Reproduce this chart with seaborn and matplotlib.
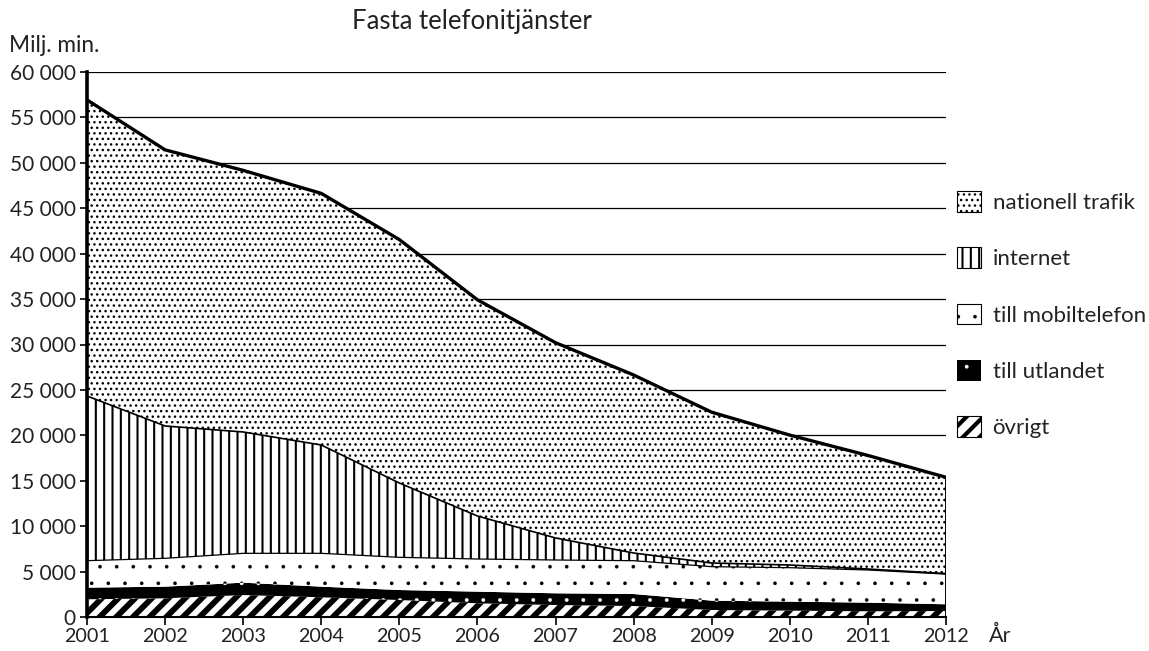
import numpy as np
import pandas as pd
import matplotlib
matplotlib.use("Agg")
import matplotlib.pyplot as plt
import seaborn as sns
from matplotlib.patches import Patch
from matplotlib.ticker import FuncFormatter

# ---- data (miljoner minuter) ----
years = [2001, 2002, 2003, 2004, 2005, 2006, 2007, 2008, 2009, 2010, 2011, 2012]
ovrigt = [1950, 2060, 2420, 2170, 1870, 1510, 1320, 1210, 770, 700, 630, 660]
utlandet = [1280, 1280, 1360, 1170, 1100, 1280, 1290, 1320, 1030, 990, 950, 740]
mobil = [2970, 3120, 3230, 3670, 3600, 3595, 3665, 3670, 3740, 3740, 3595, 3320]
internet = [18130, 14570, 13360, 11925, 8180, 4735, 2425, 845, 405, 295, 110, 60]
nationell = [32600, 30400, 28800, 27700, 26800, 23800, 21500, 19600, 16600, 14300, 12500, 10600]

series_names = ["övrigt", "till utlandet", "till mobiltelefon", "internet", "nationell trafik"]
series_vals = [ovrigt, utlandet, mobil, internet, nationell]

sns.set_theme(style="white")
plt.rcParams["font.family"] = ["Lato", "DejaVu Sans"]
plt.rcParams["hatch.linewidth"] = 1.0

fig = plt.figure(figsize=(11.49, 6.51), dpi=100)
ax = fig.add_axes([87 / 1149, 1 - 617 / 651, (946 - 87) / 1149, (617 - 72) / 651])

x = np.array(years, dtype=float)
cum = np.cumsum(np.array(series_vals, dtype=float), axis=0)
bottoms = np.vstack([np.zeros(len(years)), cum[:-1]])

styles = {
    "övrigt": dict(facecolor="white", edgecolor="black", hatch="//", hlw=4.2),
    "till utlandet": dict(facecolor="black", edgecolor="white", hatch=".", hlw=0.3),
    "till mobiltelefon": dict(facecolor="white", edgecolor="black", hatch=".", hlw=0.2),
    "internet": dict(facecolor="white", edgecolor="black", hatch="||", hlw=1.5),
    "nationell trafik": dict(facecolor="white", edgecolor="black", hatch="...", hlw=1.0),
}

for i, name in enumerate(series_names):
    st = styles[name]
    with plt.rc_context({"hatch.linewidth": st["hlw"]}):
        coll = ax.fill_between(x, bottoms[i], cum[i], facecolor=st["facecolor"],
                               edgecolor=st["edgecolor"], hatch=st["hatch"],
                               linewidth=0, zorder=2)
    if hasattr(coll, "set_hatch_linewidth"):
        coll.set_hatch_linewidth(st["hlw"])

# boundary lines
df = pd.DataFrame({"year": years, "total": cum[4], "internet": cum[3], "mobil": cum[2]})
sns.lineplot(data=df, x="year", y="total", color="black", linewidth=2.4, ax=ax, zorder=4)
sns.lineplot(data=df, x="year", y="internet", color="black", linewidth=1.2, ax=ax, zorder=4)
sns.lineplot(data=df, x="year", y="mobil", color="black", linewidth=0.9, ax=ax, zorder=4)
ax.vlines(years[-1], 0, cum[4][-1], color="black", linewidth=1.4, zorder=4)

ax.set_xlim(2001, 2012)
ax.set_ylim(0, 60000)
ax.set_xticks(years)
ax.set_xticklabels([str(y) for y in years])
ax.set_yticks(range(0, 60001, 5000))
ax.yaxis.set_major_formatter(FuncFormatter(lambda v, p: f"{int(v):,}".replace(",", " ")))
ax.set_xlabel("")
ax.set_ylabel("")

ax.grid(axis="y", color="black", linewidth=0.9, zorder=0)
ax.set_axisbelow(True)
for s in ["top", "right"]:
    ax.spines[s].set_visible(False)
ax.spines["left"].set_color("black")
ax.spines["left"].set_linewidth(2.6)
ax.spines["bottom"].set_color("black")
ax.spines["bottom"].set_linewidth(1.5)
ax.spines["left"].set_zorder(5)
ax.spines["bottom"].set_zorder(5)
ax.tick_params(axis="x", direction="out", length=6, width=1.2, color="black",
               labelsize=14.2, labelcolor="#222222", pad=2, bottom=True)
ax.tick_params(axis="y", direction="out", length=5, width=1.2, color="black",
               labelsize=15, labelcolor="#222222", pad=3, left=True)

fig.text(472 / 1149, 1 - 21 / 651, "Fasta telefonitjänster", ha="center", va="center",
         fontsize=18.5, color="#222222")
fig.text(9 / 1149, 1 - 45 / 651, "Milj. min.", ha="left", va="center",
         fontsize=16.3, color="#222222")
fig.text(989 / 1149, 1 - 636 / 651, "År", ha="left", va="center",
         fontsize=15.5, color="#222222")

handles = []
labels = []
for name in reversed(series_names):
    st = styles[name]
    if name == "till utlandet":
        h = Patch(facecolor="black", edgecolor="white", hatch=st["hatch"], linewidth=0)
    else:
        h = Patch(facecolor="white", edgecolor="black", hatch=st["hatch"], linewidth=0.8)
    handles.append(h)
    labels.append(name)

leg = fig.legend(handles, labels, loc="upper left", bbox_to_anchor=(957 / 1149, 1 - 191 / 651),
                 frameon=False, fontsize=16, handlelength=1.1, handleheight=1.05,
                 handletextpad=0.5, labelspacing=1.55, borderpad=0, borderaxespad=0,
                 labelcolor="#222222")
for p, name in zip(leg.get_patches(), reversed(series_names)):
    if hasattr(p, "set_hatch_linewidth"):
        p.set_hatch_linewidth(3.0 if name == "övrigt" else styles[name]["hlw"])

fig.savefig("out.png", dpi=100)
